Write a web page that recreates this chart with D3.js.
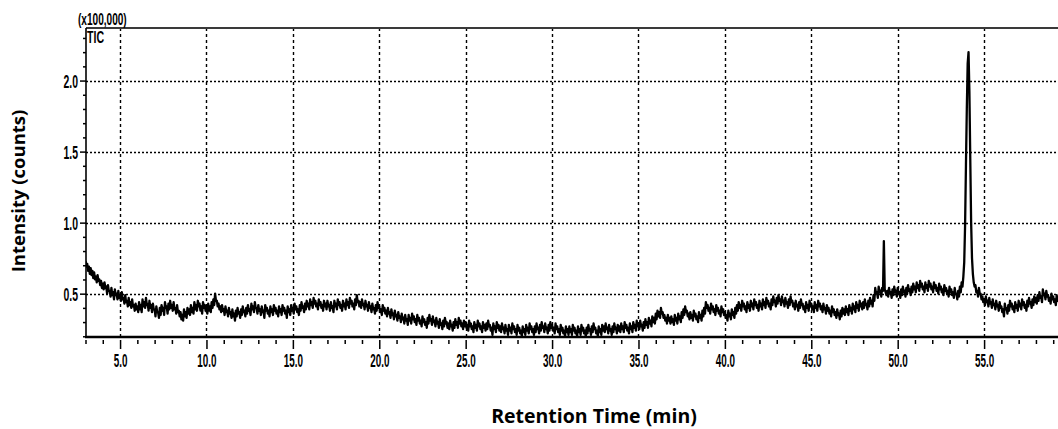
<!DOCTYPE html>
<html>
<head>
<meta charset="utf-8">
<script src="https://cdn.jsdelivr.net/npm/d3@7"></script>
<style>
  html, body { margin: 0; padding: 0; background: #fff; }
  svg { display: block; }
</style>
</head>
<body>
<svg id="chart" width="1058" height="429"></svg>
<script>
// Total ion chromatogram, one scan every 0.05 min from 3.00 min (intensity in units of 100,000 counts)
const startTime = 3.0;
const scanInterval = 0.05;
const intensity = [
  /* 3 */ 0.73,0.69,0.71,0.66,0.69,0.64,0.68,0.63,0.66,0.61,0.65,0.60,0.62,0.58,0.63,0.59,0.60,0.56,0.59,0.54,
  /* 4 */ 0.57,0.53,0.58,0.54,0.55,0.50,0.56,0.52,0.52,0.48,0.54,0.49,0.51,0.46,0.53,0.49,0.50,0.46,0.52,0.47,
  /* 5 */ 0.49,0.45,0.51,0.46,0.47,0.43,0.49,0.44,0.45,0.41,0.47,0.42,0.44,0.40,0.46,0.41,0.42,0.38,0.43,0.39,
  /* 6 */ 0.41,0.37,0.44,0.39,0.42,0.37,0.46,0.41,0.44,0.40,0.47,0.42,0.43,0.38,0.45,0.40,0.42,0.37,0.43,0.39,
  /* 7 */ 0.39,0.34,0.41,0.37,0.37,0.33,0.40,0.35,0.42,0.38,0.40,0.35,0.44,0.40,0.41,0.36,0.43,0.39,0.45,0.40,
  /* 8 */ 0.42,0.38,0.44,0.39,0.40,0.36,0.42,0.37,0.38,0.34,0.37,0.32,0.35,0.31,0.39,0.34,0.37,0.33,0.40,0.36,
  /* 9 */ 0.39,0.35,0.42,0.37,0.40,0.36,0.44,0.39,0.42,0.38,0.45,0.41,0.43,0.38,0.41,0.36,0.44,0.40,0.42,0.38,
  /*10 */ 0.40,0.36,0.43,0.38,0.41,0.37,0.44,0.40,0.46,0.42,0.50,0.45,0.45,0.41,0.43,0.39,0.41,0.37,0.42,0.38,
  /*11 */ 0.39,0.35,0.41,0.37,0.38,0.34,0.40,0.36,0.37,0.33,0.39,0.34,0.36,0.31,0.38,0.34,0.40,0.36,0.37,0.33,
  /*12 */ 0.39,0.35,0.41,0.37,0.38,0.34,0.40,0.36,0.42,0.38,0.39,0.35,0.43,0.39,0.41,0.37,0.44,0.40,0.40,0.36,
  /*13 */ 0.42,0.38,0.39,0.35,0.41,0.37,0.38,0.33,0.42,0.38,0.40,0.36,0.38,0.34,0.41,0.37,0.39,0.35,0.42,0.38,
  /*14 */ 0.40,0.36,0.38,0.34,0.41,0.37,0.39,0.35,0.42,0.38,0.40,0.36,0.38,0.33,0.41,0.37,0.39,0.35,0.42,0.38,
  /*15 */ 0.40,0.36,0.43,0.39,0.41,0.37,0.39,0.35,0.42,0.38,0.44,0.40,0.41,0.37,0.43,0.39,0.45,0.41,0.43,0.39,
  /*16 */ 0.46,0.42,0.44,0.40,0.47,0.43,0.45,0.41,0.43,0.39,0.46,0.42,0.44,0.40,0.42,0.38,0.45,0.41,0.43,0.39,
  /*17 */ 0.45,0.41,0.42,0.38,0.44,0.40,0.41,0.37,0.45,0.41,0.43,0.39,0.46,0.42,0.44,0.40,0.42,0.38,0.45,0.41,
  /*18 */ 0.43,0.39,0.46,0.42,0.44,0.40,0.47,0.43,0.45,0.41,0.43,0.39,0.46,0.42,0.49,0.44,0.45,0.41,0.44,0.40,
  /*19 */ 0.46,0.42,0.43,0.39,0.45,0.41,0.42,0.38,0.44,0.40,0.41,0.37,0.43,0.39,0.40,0.36,0.42,0.38,0.44,0.40,
  /*20 */ 0.41,0.37,0.39,0.35,0.42,0.38,0.40,0.36,0.38,0.34,0.40,0.36,0.37,0.33,0.39,0.35,0.36,0.32,0.38,0.34,
  /*21 */ 0.35,0.31,0.37,0.33,0.34,0.30,0.36,0.32,0.33,0.29,0.35,0.31,0.32,0.28,0.35,0.31,0.33,0.29,0.36,0.32,
  /*22 */ 0.34,0.30,0.32,0.28,0.35,0.31,0.33,0.29,0.31,0.27,0.34,0.30,0.32,0.28,0.30,0.26,0.33,0.29,0.35,0.31,
  /*23 */ 0.32,0.28,0.34,0.30,0.31,0.27,0.33,0.29,0.30,0.26,0.32,0.28,0.29,0.25,0.31,0.27,0.33,0.29,0.30,0.26,
  /*24 */ 0.29,0.25,0.31,0.27,0.28,0.24,0.30,0.26,0.32,0.28,0.30,0.26,0.33,0.29,0.31,0.27,0.29,0.25,0.31,0.27,
  /*25 */ 0.30,0.26,0.28,0.24,0.31,0.27,0.29,0.25,0.27,0.23,0.30,0.26,0.28,0.24,0.31,0.27,0.29,0.25,0.27,0.23,
  /*26 */ 0.30,0.26,0.28,0.24,0.29,0.25,0.31,0.27,0.28,0.24,0.26,0.21,0.29,0.25,0.27,0.23,0.30,0.26,0.28,0.24,
  /*27 */ 0.27,0.23,0.29,0.25,0.26,0.22,0.28,0.24,0.25,0.21,0.28,0.24,0.26,0.22,0.29,0.25,0.27,0.23,0.25,0.21,
  /*28 */ 0.28,0.24,0.26,0.22,0.24,0.20,0.27,0.23,0.25,0.21,0.28,0.24,0.26,0.22,0.29,0.25,0.27,0.23,0.25,0.21,
  /*29 */ 0.27,0.23,0.29,0.25,0.26,0.22,0.28,0.24,0.30,0.26,0.27,0.23,0.29,0.25,0.26,0.22,0.28,0.24,0.30,0.26,
  /*30 */ 0.28,0.24,0.26,0.22,0.29,0.25,0.27,0.23,0.25,0.21,0.28,0.24,0.26,0.22,0.24,0.20,0.27,0.23,0.25,0.21,
  /*31 */ 0.27,0.23,0.25,0.21,0.28,0.24,0.26,0.22,0.24,0.20,0.27,0.23,0.25,0.21,0.28,0.24,0.26,0.22,0.24,0.20,
  /*32 */ 0.26,0.22,0.28,0.24,0.25,0.21,0.27,0.23,0.29,0.25,0.26,0.22,0.24,0.20,0.27,0.23,0.25,0.21,0.28,0.24,
  /*33 */ 0.27,0.23,0.29,0.25,0.26,0.22,0.28,0.24,0.25,0.21,0.27,0.23,0.29,0.25,0.26,0.22,0.28,0.24,0.27,0.23,
  /*34 */ 0.29,0.25,0.27,0.23,0.30,0.26,0.28,0.24,0.26,0.22,0.29,0.25,0.27,0.23,0.30,0.26,0.28,0.24,0.31,0.27,
  /*35 */ 0.29,0.25,0.31,0.27,0.28,0.24,0.30,0.26,0.32,0.28,0.30,0.26,0.33,0.29,0.31,0.27,0.34,0.30,0.33,0.29,
  /*36 */ 0.36,0.32,0.38,0.34,0.37,0.33,0.40,0.36,0.37,0.33,0.35,0.31,0.33,0.29,0.35,0.31,0.33,0.29,0.34,0.30,
  /*37 */ 0.32,0.28,0.35,0.31,0.33,0.29,0.36,0.32,0.34,0.30,0.37,0.33,0.39,0.35,0.41,0.37,0.38,0.34,0.36,0.32,
  /*38 */ 0.37,0.33,0.35,0.31,0.38,0.34,0.36,0.32,0.34,0.30,0.37,0.33,0.35,0.31,0.38,0.34,0.40,0.36,0.44,0.40,
  /*39 */ 0.42,0.38,0.40,0.36,0.43,0.39,0.41,0.37,0.39,0.35,0.42,0.38,0.40,0.36,0.38,0.34,0.41,0.37,0.39,0.35,
  /*40 */ 0.37,0.33,0.35,0.31,0.38,0.34,0.36,0.32,0.39,0.35,0.37,0.33,0.40,0.36,0.42,0.38,0.44,0.40,0.42,0.38,
  /*41 */ 0.45,0.41,0.43,0.39,0.41,0.37,0.44,0.40,0.42,0.38,0.45,0.41,0.43,0.39,0.46,0.42,0.44,0.40,0.42,0.38,
  /*42 */ 0.45,0.41,0.43,0.39,0.46,0.42,0.44,0.40,0.47,0.43,0.45,0.41,0.43,0.39,0.46,0.42,0.48,0.44,0.45,0.41,
  /*43 */ 0.47,0.43,0.49,0.45,0.46,0.42,0.48,0.44,0.45,0.41,0.47,0.43,0.44,0.40,0.46,0.42,0.48,0.44,0.45,0.41,
  /*44 */ 0.43,0.39,0.45,0.41,0.42,0.38,0.44,0.40,0.46,0.42,0.43,0.39,0.41,0.37,0.44,0.40,0.42,0.38,0.45,0.41,
  /*45 */ 0.43,0.39,0.41,0.37,0.44,0.40,0.42,0.38,0.45,0.41,0.43,0.39,0.41,0.37,0.43,0.39,0.40,0.36,0.42,0.38,
  /*46 */ 0.40,0.36,0.38,0.34,0.41,0.37,0.39,0.35,0.37,0.33,0.39,0.35,0.36,0.32,0.38,0.34,0.40,0.36,0.39,0.35,
  /*47 */ 0.41,0.37,0.39,0.35,0.42,0.38,0.40,0.36,0.43,0.39,0.41,0.37,0.44,0.40,0.42,0.38,0.45,0.41,0.43,0.39,
  /*48 */ 0.44,0.40,0.46,0.42,0.43,0.39,0.45,0.41,0.47,0.43,0.45,0.41,0.49,0.45,0.54,0.50,0.51,0.47,0.55,0.51,
  /*49 */ 0.52,0.48,0.54,0.52,0.87,0.53,0.51,0.49,0.52,0.48,0.54,0.50,0.51,0.47,0.53,0.49,0.55,0.51,0.52,0.48,
  /*50 */ 0.54,0.50,0.51,0.47,0.53,0.49,0.55,0.51,0.52,0.48,0.54,0.50,0.56,0.52,0.53,0.49,0.55,0.51,0.57,0.53,
  /*51 */ 0.55,0.51,0.58,0.54,0.56,0.52,0.59,0.55,0.57,0.53,0.55,0.51,0.58,0.54,0.56,0.52,0.59,0.55,0.57,0.53,
  /*52 */ 0.55,0.51,0.58,0.54,0.56,0.52,0.54,0.50,0.57,0.53,0.55,0.51,0.53,0.49,0.56,0.52,0.54,0.50,0.52,0.48,
  /*53 */ 0.55,0.51,0.53,0.49,0.51,0.47,0.54,0.50,0.50,0.46,0.52,0.48,0.55,0.51,0.58,0.55,0.62,0.72,0.98,1.40,
  /*54 */ 1.80,2.12,2.20,1.92,1.45,1.00,0.75,0.64,0.58,0.55,0.56,0.51,0.52,0.48,0.54,0.50,0.50,0.46,0.48,0.44,
  /*55 */ 0.46,0.42,0.48,0.44,0.45,0.41,0.47,0.43,0.44,0.40,0.46,0.42,0.43,0.39,0.45,0.41,0.42,0.38,0.44,0.40,
  /*56 */ 0.41,0.37,0.39,0.34,0.43,0.39,0.40,0.36,0.42,0.38,0.45,0.41,0.43,0.39,0.41,0.37,0.44,0.40,0.42,0.38,
  /*57 */ 0.45,0.41,0.43,0.39,0.46,0.42,0.44,0.40,0.42,0.38,0.45,0.41,0.47,0.43,0.44,0.40,0.46,0.42,0.48,0.44,
  /*58 */ 0.47,0.43,0.49,0.45,0.51,0.47,0.48,0.44,0.53,0.49,0.50,0.46,0.52,0.48,0.49,0.45,0.47,0.43,0.50,0.46,
  /*59 */ 0.48,0.44,0.46,0.42,0.49,0.45,0.47,0.43
];

const xMajorTicks = [5, 10, 15, 20, 25, 30, 35, 40, 45, 50, 55];
const xMinorTicks = d3.range(3, 60).filter(t => t % 5 !== 0);
const yMajorTicks = [0.5, 1.0, 1.5, 2.0];
const yMinorTicks = d3.range(2, 24).map(d => d / 10).filter(v => Math.round(v * 10) % 5 !== 0);

const xTitle = "Retention Time (min)";
const yTitle = "Intensity (counts)";
const scaleNote = "(x100,000)";
const traceName = "TIC";

const plot = { left: 86, top: 28, right: 1058, bottom: 337 };

const x = d3.scaleLinear().domain([3.0, 59.3]).range([85.5, 1058.4]);
const y = d3.scaleLinear().domain([0.195, 2.37]).range([plot.bottom, plot.top]);

const svg = d3.select("#chart");
const narrow = "Liberation Sans, Arial, sans-serif";

// clip path for the trace
svg.append("defs").append("clipPath").attr("id", "plotClip")
  .append("rect")
  .attr("x", plot.left).attr("y", plot.top)
  .attr("width", plot.right - plot.left).attr("height", plot.bottom - plot.top);

// dotted grid
const grid = svg.append("g").attr("stroke", "#000").attr("fill", "none");
grid.selectAll("line.v").data(xMajorTicks).join("line")
  .attr("class", "v")
  .attr("x1", d => Math.round(x(d)) + 0.5).attr("x2", d => Math.round(x(d)) + 0.5)
  .attr("y1", plot.top).attr("y2", plot.bottom)
  .attr("stroke-width", 1.4)
  .attr("stroke-dasharray", "3,3");
grid.selectAll("line.h").data(yMajorTicks).join("line")
  .attr("class", "h")
  .attr("x1", plot.left).attr("x2", plot.right)
  .attr("y1", d => Math.round(y(d)) + 0.5).attr("y2", d => Math.round(y(d)) + 0.5)
  .attr("stroke-width", 1.3)
  .attr("stroke-dasharray", "2,2");

// chromatogram trace
const scans = intensity.map((v, i) => [startTime + i * scanInterval, v]);
const line = d3.line().x(d => x(d[0])).y(d => y(d[1]));
svg.append("path")
  .datum(scans)
  .attr("clip-path", "url(#plotClip)")
  .attr("fill", "none")
  .attr("stroke", "#000")
  .attr("stroke-width", 2.3)
  .attr("stroke-linejoin", "round")
  .attr("d", line);

// frame lines
svg.append("line").attr("x1", plot.left).attr("x2", plot.right)
  .attr("y1", plot.top).attr("y2", plot.top)
  .attr("stroke", "#3a3a3a").attr("stroke-width", 2.2);
svg.append("line").attr("x1", plot.left).attr("x2", plot.left)
  .attr("y1", plot.top).attr("y2", plot.bottom)
  .attr("stroke", "#000").attr("stroke-width", 1.6);
svg.append("line").attr("x1", plot.left - 1).attr("x2", plot.right)
  .attr("y1", plot.bottom).attr("y2", plot.bottom)
  .attr("stroke", "#000").attr("stroke-width", 2.6);

// bottom axis: minor and major ticks
const xMinorAxis = svg.append("g").attr("transform", `translate(0,${plot.bottom + 3})`)
  .call(d3.axisBottom(x).tickValues(xMinorTicks).tickSize(4).tickFormat(""));
const xMajorAxis = svg.append("g").attr("transform", `translate(0,${plot.bottom + 3})`)
  .call(d3.axisBottom(x).tickValues(xMajorTicks).tickSize(9).tickFormat(d3.format(".1f")));
[xMinorAxis, xMajorAxis].forEach(g => {
  g.select(".domain").remove();
  g.selectAll(".tick line").attr("stroke", "#000").attr("stroke-width", 1.5);
});
xMajorAxis.selectAll(".tick text")
  .attr("y", 27).attr("dy", 0)
  .attr("fill", "#000")
  .style("font-family", narrow)
  .style("font-weight", "bold")
  .style("font-size", "19px")
  .attr("transform", "scale(0.52,1)");

// left axis: minor and major ticks
const yMajorScaleX = 0.58;
const yMinorAxis = svg.append("g").attr("transform", `translate(${plot.left},0)`)
  .call(d3.axisLeft(y).tickValues(yMinorTicks).tickSize(3).tickFormat(""));
const yMajorAxis = svg.append("g").attr("transform", `translate(${plot.left},0)`)
  .call(d3.axisLeft(y).tickValues(yMajorTicks).tickSize(6).tickFormat(d3.format(".1f")));
[yMinorAxis, yMajorAxis].forEach(g => {
  g.select(".domain").remove();
  g.selectAll(".tick line").attr("stroke", "#000").attr("stroke-width", 1.5);
});
yMajorAxis.selectAll(".tick text")
  .attr("x", -8 / yMajorScaleX).attr("dy", 0).attr("y", 7)
  .attr("fill", "#000")
  .style("font-family", narrow)
  .style("font-weight", "bold")
  .style("font-size", "18px")
  .attr("transform", `scale(${yMajorScaleX},1)`);

// scale note and trace label
svg.append("text")
  .attr("transform", "translate(78,25) scale(0.63,1)")
  .style("font-family", narrow).style("font-size", "16px").style("font-weight", "bold")
  .attr("fill", "#000")
  .text(scaleNote);
svg.append("text")
  .attr("transform", "translate(87,43) scale(0.66,1)")
  .style("font-family", narrow).style("font-size", "16px").style("font-weight", "bold")
  .attr("fill", "#000")
  .text(traceName);

// axis titles
svg.append("text")
  .attr("x", 594).attr("y", 423)
  .attr("text-anchor", "middle")
  .style("font-family", "Open Sans, sans-serif")
  .style("font-weight", "bold").style("font-size", "19.5px")
  .attr("fill", "#000")
  .text(xTitle);
svg.append("text")
  .attr("transform", "translate(25,191) rotate(-90)")
  .attr("text-anchor", "middle")
  .style("font-family", "Open Sans, sans-serif")
  .style("font-weight", "bold").style("font-size", "18.5px")
  .attr("fill", "#000")
  .text(yTitle);
</script>
</body>
</html>
